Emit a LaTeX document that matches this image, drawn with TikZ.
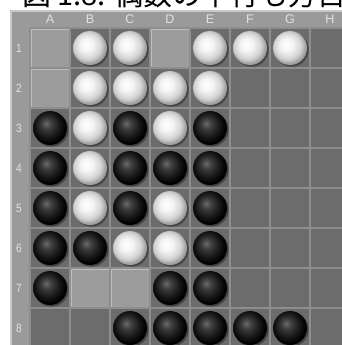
\documentclass[tikz,border=0pt]{standalone}
\usepackage{fontspec}
\setsansfont{Liberation Sans}
\newfontfamily\cjk{Noto Sans CJK JP}
\definecolor{frame}{HTML}{9A9A9A}
\definecolor{frameedge}{HTML}{C8C8C8}
\definecolor{cell}{HTML}{6C6C6C}
\definecolor{grid}{HTML}{8E8E8E}
\definecolor{hicell}{HTML}{9C9C9C}
\definecolor{hiedge}{HTML}{BEBEBE}
\definecolor{lab}{HTML}{E2E2E2}
\pgfdeclareradialshading{wstone}{\pgfpoint{-6bp}{6bp}}{color(0bp)=(white); color(9bp)=(white!96!black); color(20bp)=(white!82!black); color(26bp)=(white!62!black); color(50bp)=(white!62!black)}
\pgfdeclareradialshading{bstone}{\pgfpoint{-6bp}{7bp}}{color(0bp)=(white!42!black); color(7bp)=(white!25!black); color(18bp)=(white!9!black); color(26bp)=(black); color(50bp)=(black)}
\tikzset{
  collab/.style={font=\sffamily\fontsize{12.5}{12.5}\selectfont, text=lab, inner sep=0pt},
  rowlab/.style={font=\sffamily\fontsize{12}{12}\selectfont, text=lab, inner sep=0pt, xscale=0.85},
  stoneshadow/.style={fill=black, opacity=0.35},
  whitestone/.style={shading=wstone},
  blackstone/.style={shading=bstone},
}
\begin{document}
\begin{tikzpicture}[x=1pt,y=-1pt]
\useasboundingbox (0,0) rectangle (342,345);
\fill[white] (0,0) rectangle (342,345);
% caption (cut off at the top)
\node[anchor=base west, inner sep=0pt, font=\cjk\fontsize{29}{29}\selectfont] (cap) at (22,5.5) {図 1.8: 偶数の中行も方目図};
% frame
\fill[frameedge] (10,10.5) rectangle (350,350);
\fill[frame] (11.5,12) rectangle (350,350);
% cells
\fill[cell] (30,28) rectangle (350,350);
\foreach \c/\r in {1/1,4/1,1/2,2/7,3/7}{
  \fill[hicell] ({30+40*(\c-1)},{28+40*(\r-1)}) rectangle ++(40,40);
  \draw[hiedge, line width=1.2pt] ({30+40*(\c-1)+1.5},{28+40*(\r-1)+39}) -- ++(0,-37.5) -- ++(37.5,0);
}
% grid
\foreach \i in {0,...,8}{
  \draw[grid, line width=1.6pt] ({30+40*\i},28) -- ({30+40*\i},350);
  \draw[grid, line width=1.6pt] (30,{28+40*\i}) -- (350,{28+40*\i});
}
% labels
\foreach \l [count=\i] in {A,B,C,D,E,F,G,H}{
  \node[collab] (col\l) at ({10+40*\i},19.5) {\l};
}
\foreach \i in {1,...,8}{
  \node[rowlab] (row\i) at (19,{8+40*\i}) {\i};
}
% stones
\foreach \c/\r in {2/1,3/1,5/1,6/1,7/1,2/2,3/2,4/2,5/2,2/3,4/3,2/4,2/5,4/5,3/6,4/6}{
  \fill[stoneshadow] ({50+40*(\c-1)+1.5},{48+40*(\r-1)+1.5}) circle (17.2);
  \shade[whitestone] ({50+40*(\c-1)},{48+40*(\r-1)}) circle (17);
}
\foreach \c/\r in {1/3,3/3,5/3,1/4,3/4,4/4,5/4,1/5,3/5,5/5,1/6,2/6,5/6,1/7,4/7,5/7,3/8,4/8,5/8,6/8,7/8}{
  \fill[stoneshadow] ({50+40*(\c-1)+1.5},{48+40*(\r-1)+1.5}) circle (17.2);
  \shade[blackstone] ({50+40*(\c-1)},{48+40*(\r-1)}) circle (17);
}
\end{tikzpicture}
\end{document}
